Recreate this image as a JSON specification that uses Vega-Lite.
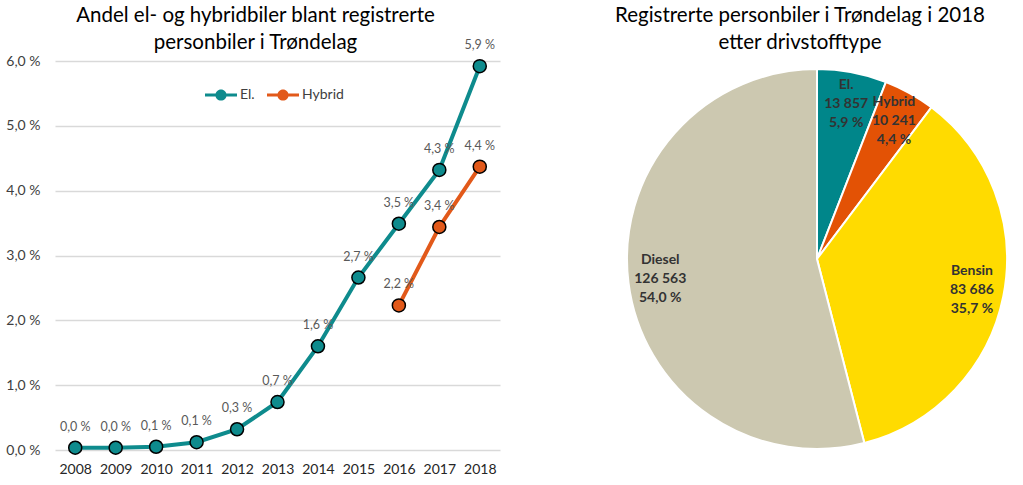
{
  "$schema": "https://vega.github.io/schema/vega-lite/v6.json",
  "background": "white",
  "padding": 5,
  "config": {
    "locale": {"number": {"decimal": ",", "thousands": " ", "grouping": [3], "currency": ["", " kr"], "percent": " %"}},
    "font": "Lato",
    "view": {"stroke": null},
    "concat": {"spacing": 114},
    "title": {"fontSize": 20.5, "fontWeight": "normal", "color": "#000000", "lineHeight": 27, "frame": "group", "anchor": "middle"}
  },
  "resolve": {"scale": {"color": "independent"}, "legend": {"color": "independent"}},
  "datasets": {
    "andel": [
      {"year": 2008, "type": "El.", "value": 0.00035},
      {"year": 2009, "type": "El.", "value": 0.00035},
      {"year": 2010, "type": "El.", "value": 0.0005},
      {"year": 2011, "type": "El.", "value": 0.0012},
      {"year": 2012, "type": "El.", "value": 0.0032},
      {"year": 2013, "type": "El.", "value": 0.0074},
      {"year": 2014, "type": "El.", "value": 0.0160},
      {"year": 2015, "type": "El.", "value": 0.0266},
      {"year": 2016, "type": "El.", "value": 0.0349},
      {"year": 2017, "type": "El.", "value": 0.0432},
      {"year": 2018, "type": "El.", "value": 0.0592},
      {"year": 2016, "type": "Hybrid", "value": 0.0223},
      {"year": 2017, "type": "Hybrid", "value": 0.0344},
      {"year": 2018, "type": "Hybrid", "value": 0.0437}
    ],
    "bestand": [
      {"i": 1, "drivstoff": "El.", "antall": 13857},
      {"i": 2, "drivstoff": "Hybrid", "antall": 10241},
      {"i": 3, "drivstoff": "Bensin", "antall": 83686},
      {"i": 4, "drivstoff": "Diesel", "antall": 126563}
    ]
  },
  "hconcat": [
    {
      "width": 445,
      "height": 389,
      "title": {"text": ["Andel el- og hybridbiler blant registrerte", "personbiler i Trøndelag"], "dx": -22, "offset": -14},
      "data": {"name": "andel"},
      "encoding": {
        "x": {"field": "year", "type": "ordinal", "scale": {"type": "point", "padding": 0.5},
              "axis": {"title": null, "labelAngle": 0, "domain": false, "ticks": false, "labelFontSize": 14, "labelColor": "#262626", "labelPadding": 12}},
        "y": {"field": "value", "type": "quantitative", "scale": {"domain": [0, 0.06]},
              "axis": {"title": null, "format": ".1%", "values": [0, 0.01, 0.02, 0.03, 0.04, 0.05, 0.06], "domain": false, "ticks": false, "labelFontSize": 14, "labelColor": "#404040", "labelPadding": 15, "gridColor": "#d9d9d9", "gridWidth": 1.3}},
        "color": {"field": "type", "type": "nominal", "scale": {"domain": ["El.", "Hybrid"], "range": ["#0E8B8D", "#E2591A"]},
                  "legend": {"title": null, "orient": "none", "legendX": 158, "legendY": 26, "direction": "horizontal",
                             "symbolType": "M-2,-0.2H2V0.2H-2Z M-0.7,0A0.7,0.7 0 1,1 0.7,0A0.7,0.7 0 1,1 -0.7,0Z",
                             "symbolSize": 256, "symbolStrokeWidth": 0, "symbolOpacity": 1, "labelFontSize": 14, "labelColor": "#404040", "labelOffset": 11, "columnPadding": 12}}
      },
      "layer": [
        {"mark": {"type": "line", "strokeWidth": 4}},
        {"mark": {"type": "point", "filled": true, "size": 170, "stroke": "black", "strokeWidth": 1.5, "opacity": 1}},
        {"mark": {"type": "text", "dy": -21, "fontSize": 12.5},
         "encoding": {"text": {"field": "value", "type": "quantitative", "format": ".1%"}, "color": {"value": "#595959"}}}
      ]
    },
    {
      "width": 380,
      "height": 396,
      "title": {"text": ["Registrerte personbiler i Trøndelag i 2018", "etter drivstofftype"], "dx": -17, "offset": 8},
      "data": {"name": "bestand"},
      "transform": [
        {"joinaggregate": [{"op": "sum", "field": "antall", "as": "total"}]},
        {"calculate": "datum.antall / datum.total", "as": "andel"},
        {"calculate": "datum.drivstoff + '\\n' + format(datum.antall, ',d') + '\\n' + format(datum.andel, '.1%')", "as": "label"}
      ],
      "encoding": {
        "theta": {"field": "antall", "type": "quantitative", "stack": true},
        "order": {"field": "i", "type": "quantitative"},
        "color": {"field": "drivstoff", "type": "nominal", "scale": {"domain": ["El.", "Hybrid", "Bensin", "Diesel"], "range": ["#00868A", "#E35205", "#FFDB00", "#CCC8B0"]}, "legend": null}
      },
      "layer": [
        {"mark": {"type": "arc", "outerRadius": 190, "stroke": "white", "strokeWidth": 2}},
        {"mark": {"type": "text", "radius": 158, "dy": -19, "fontSize": 14, "fontWeight": "bold", "lineHeight": 19, "lineBreak": "\n"},
         "encoding": {"text": {"field": "label", "type": "nominal"}, "color": {"value": "#333333"}}}
      ]
    }
  ]
}
